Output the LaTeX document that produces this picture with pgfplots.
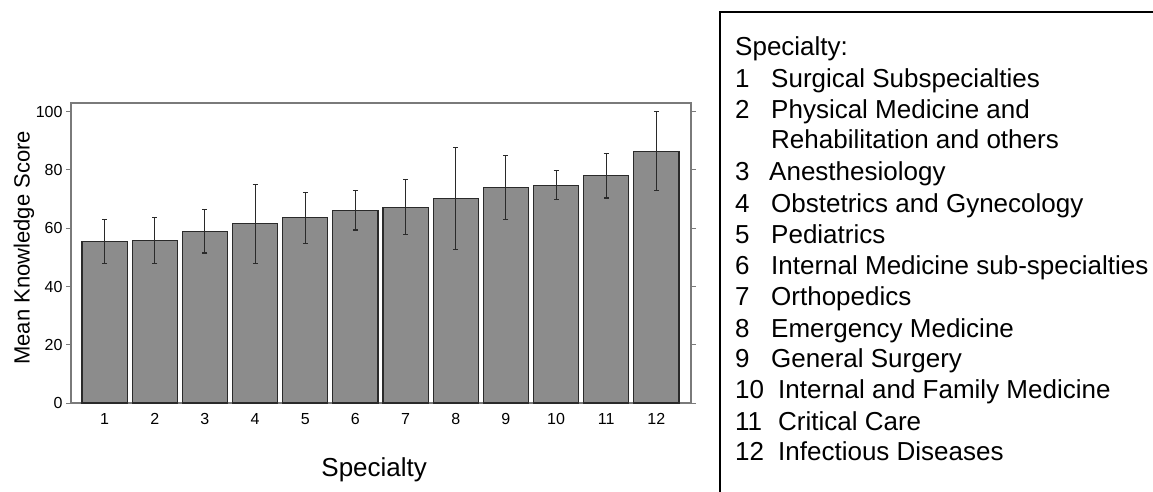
\documentclass[border=0pt]{standalone}
\usepackage{pgfplots}
\pgfplotsset{compat=1.18}
\usepackage{pgfplotstable}
\usepackage{fontspec}
\setmainfont{Liberation Sans}
\definecolor{barfill}{HTML}{8C8C8C}
\definecolor{baredge}{HTML}{2A2A2A}
\definecolor{axisgray}{HTML}{7A7A7A}
\pgfplotstableread{
x y err
1 55.4 7.6
2 55.7 7.9
3 58.9 7.4
4 61.5 13.5
5 63.6 8.7
6 66.2 6.8
7 67.2 9.4
8 70.1 17.5
9 73.9 11.0
10 74.8 4.9
11 78.1 7.7
12 86.5 13.6
}\scores
\begin{document}
\begin{tikzpicture}[x=1pt,y=1pt]
\path[use as bounding box] (0,0) rectangle (1153,-491);
\begin{axis}[
  at={(71pt,-403pt)}, anchor=south west,
  scale only axis, width=620pt, height=300pt,
  xmin=0.33, xmax=12.69, ymin=0, ymax=103,
  xtick={1,...,12}, ytick={0,20,...,100},
  xtick style={draw=none},
  ytick pos=both, yticklabel pos=left,
  tick align=outside, major tick length=5pt,
  axis line style={draw=axisgray, line width=1.2pt},
  ytick style={draw=axisgray, line width=1pt},
  /pgf/number format/assume math mode=true,
  ticklabel style={font=\fontsize{16}{18}\selectfont},
  xticklabel style={yshift=-2pt},
  xlabel={Specialty},
  ylabel={Mean Knowledge Score},
  xlabel style={at={(rel axis cs:0.489,-0.223)}, anchor=center, font=\fontsize{26}{30}\selectfont},
  ylabel style={at={(rel axis cs:-0.076,0.517)}, anchor=center, font=\fontsize{22}{26}\selectfont},
]
\addplot[ybar, bar width=0.9, fill=barfill, draw=baredge, line width=1.1pt,
  error bars/.cd, y dir=both, y explicit,
  error bar style={draw=baredge, line width=1.1pt},
  error mark options={rotate=90, mark size=2.5pt, draw=baredge, line width=1.1pt}]
  table[x=x, y=y, y error=err] {\scores};
\end{axis}
\draw[line width=2.8pt, black] (720,-12) rectangle (1170,-510);
\begin{scope}[every node/.style={anchor=base west, inner sep=0pt, font=\fontsize{26}{30}\selectfont}]
\node at (735,-55) {Specialty:};
\node at (735,-87) {1}; \node at (771,-87) {Surgical Subspecialties};
\node at (735,-118) {2}; \node at (771,-118) {Physical Medicine and};
\node at (771,-148) {Rehabilitation and others};
\node at (735,-180) {3}; \node at (769,-180) {Anesthesiology};
\node at (735,-212) {4}; \node at (771,-212) {Obstetrics and Gynecology};
\node at (735,-243) {5}; \node at (771,-243) {Pediatrics};
\node at (735,-274) {6}; \node at (771,-274) {Internal Medicine sub-specialties};
\node at (735,-305) {7}; \node at (771,-305) {Orthopedics};
\node at (735,-337) {8}; \node at (771,-337) {Emergency Medicine};
\node at (735,-367) {9}; \node at (771,-367) {General Surgery};
\node at (735,-398) {10}; \node at (778,-398) {Internal and Family Medicine};
\node at (735,-430) {11}; \node at (778,-430) {Critical Care};
\node at (735,-460) {12}; \node at (778,-460) {Infectious Diseases};
\end{scope}
\end{tikzpicture}
\end{document}
